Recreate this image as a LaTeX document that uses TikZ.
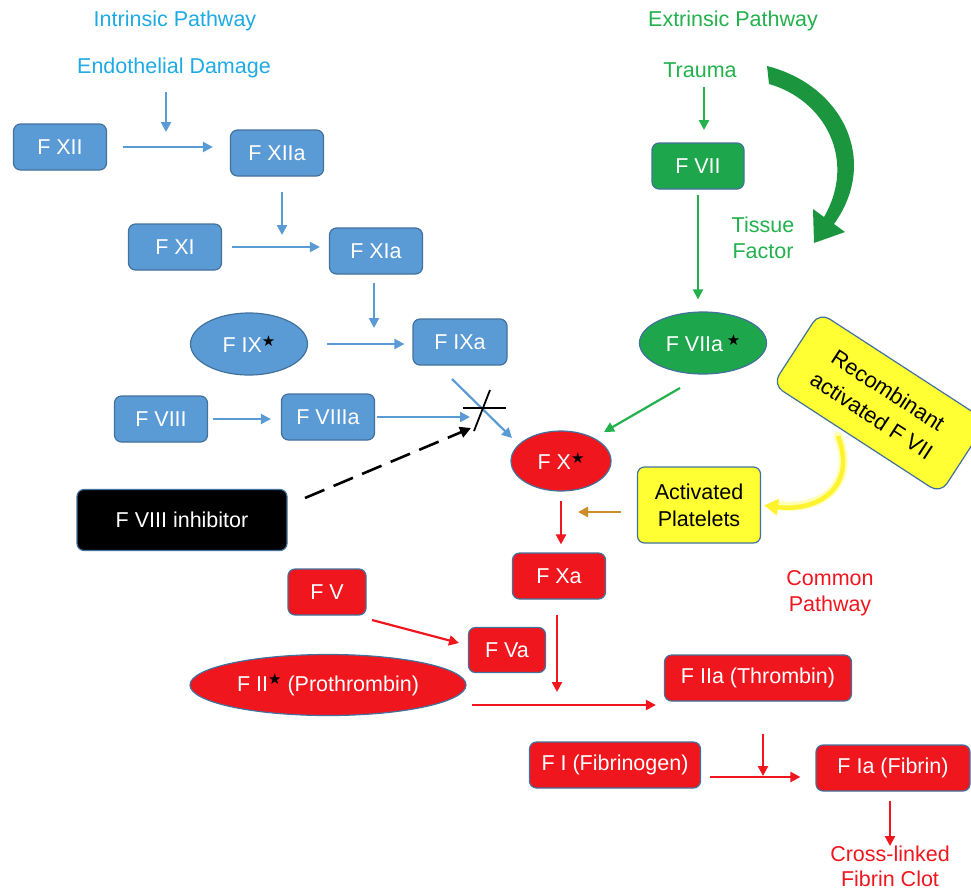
\documentclass[tikz,border=0pt]{standalone}
\usepackage{fontspec}
\setmainfont{Liberation Sans}
\newfontfamily\symfont{DejaVu Sans}
\usetikzlibrary{arrows.meta,shapes.geometric,calc}
\definecolor{cyanT}{RGB}{30,170,228}
\definecolor{greenT}{RGB}{34,177,76}
\definecolor{boxblue}{RGB}{91,155,213}
\definecolor{edgeblue}{RGB}{65,113,156}
\definecolor{boxgreen}{RGB}{30,166,76}
\definecolor{boxred}{RGB}{240,22,30}
\definecolor{redT}{RGB}{240,22,30}
\definecolor{ylw}{RGB}{255,255,51}
\definecolor{orangeA}{RGB}{205,140,40}
\definecolor{bigG}{RGB}{28,150,62}
\newcommand{\mystar}{\raisebox{0.3em}{\symfont\fontsize{15}{15}\selectfont\textcolor{black}{★}}}
\begin{document}
\begin{tikzpicture}[x=1pt,y=-1pt,
  font=\fontsize{21.5}{26}\selectfont,
  box/.style={draw=edgeblue, line width=1.2pt, rounded corners=7pt, minimum width=93pt, minimum height=46pt, inner sep=2pt, text=white},
  bbox/.style={box, fill=boxblue},
  rbox/.style={box, fill=boxred},
  ell/.style={ellipse, draw=edgeblue, line width=1.2pt, inner sep=0pt, text=white},
  arr/.style={line width=2.2pt, -{Triangle[length=10pt,width=10pt]}},
  barr/.style={arr, draw=boxblue, fill=boxblue},
  garr/.style={arr, draw=greenT, fill=greenT},
  rarr/.style={arr, draw=boxred, fill=boxred},
  oarr/.style={arr, draw=orangeA, fill=orangeA}]
\useasboundingbox (0,0) rectangle (971,892);

% ---------- intrinsic
\node[text=cyanT] (intr) at (175,21) {Intrinsic Pathway};
\node[text=cyanT] (endo) at (174,68) {Endothelial Damage};
\node[bbox] (fxii) at (60,147) {F XII};
\node[bbox] (fxiia) at (277,153) {F XIIa};
\node[bbox] (fxi) at (175,247) {F XI};
\node[bbox] (fxia) at (376,251) {F XIa};
\node[ell, fill=boxblue, minimum width=117pt, minimum height=62pt] (fix) at (249,344) {F IX\mystar};
\node[bbox, minimum width=94pt] (fixa) at (460,342) {F IXa};
\node[bbox] (fviii) at (161,419) {F VIII};
\node[bbox] (fviiia) at (328,417) {F VIIIa};
\node[box, fill=black, minimum width=210pt, minimum height=61pt] (inhib) at (182,520) {F VIII inhibitor};

\coordinate (e1) at (166,132);
\coordinate (e2) at (282,235);
\coordinate (e3) at (374,328);
\coordinate (xc) at (470,417);
\coordinate (b1) at (452,379);
\coordinate (b2) at (512,438);
\coordinate (d1) at (305,498);
\coordinate (xm) at (471,428);

\draw[barr, shorten <=10pt] (endo.south -| e1) -- (e1);
\draw[barr, shorten <=16pt, shorten >=17pt] (fxii.east) -- (fxii.east -| fxiia.west);
\draw[barr, shorten <=15pt] (fxiia.south -| e2) -- (e2);
\draw[barr, shorten <=10pt, shorten >=9pt] (fxi.east) -- (fxi.east -| fxia.west);
\draw[barr, shorten <=8pt] (fxia.south -| e3) -- (e3);
\draw[barr, shorten <=19pt, shorten >=8pt] (fix.east) -- (fix.east -| fixa.west);
\draw[barr, shorten <=5pt, shorten >=10pt] (fviii.east) -- (fviii.east -| fviiia.west);
\draw[barr, shorten <=2pt] (fviiia.east |- xc) -- (xc);
\draw[barr] (b1) -- (b2);
% X mark
\draw[black, line width=1.8pt] (463,408) -- (506,408);
\draw[black, line width=1.8pt] (474,431) -- (490,390);
% inhibitor dashed arrow
\draw[black, line width=2.6pt, dash pattern=on 21pt off 10pt, -{Triangle[length=11pt,width=11pt]}] (d1) -- (xm);

% ---------- extrinsic
\node[text=greenT] (ext) at (733,21) {Extrinsic Pathway};
\node[text=greenT] (trauma) at (700,70) {Trauma};
\node[box, fill=boxgreen, minimum width=92pt] (fvii) at (698,166) {F VII};
\node[text=greenT, align=center] (tf) at (763,238) {Tissue\\Factor};
\node[ell, fill=boxgreen, minimum width=127pt, minimum height=62pt] (fviia) at (703,343) {F VIIa\,\mystar};
\coordinate (t1) at (704,87);
\coordinate (t2) at (704,130);
\draw[garr] (t1) -- (t2);
\draw[garr, shorten <=5pt, shorten >=12pt] (fvii.south) -- (fvii.south |- fviia.north);
% big curved green arrow
\fill[bigG] (767,66) .. controls (842,85) and (880,160) .. (834,224)
  -- (845,232) -- (814,243) -- (813,209) -- (824,217)
  .. controls (857,160) and (825,100) .. (769,84) -- cycle;

\coordinate (g1) at (680,388);
\coordinate (g2) at (604,432);
\draw[garr] (g1) -- (g2);

% recombinant
\node[box, fill=ylw, text=black, rotate=-33, rounded corners=12pt, minimum width=200pt, minimum height=86pt, align=center, font=\fontsize{22}{30}\selectfont] (recomb) at (880,403) {Recombinant\\activated F VII};
\node[box, fill=ylw, text=black, minimum width=123pt, minimum height=76pt, align=center, font=\fontsize{21.5}{27}\selectfont] (plat) at (699,505) {Activated\\Platelets};
\coordinate (y1) at (838,436);
\draw[ylw!60, line width=9pt, line cap=round, opacity=0.6] (y1) .. controls (858,490) and (815,512) .. ($(plat.east)+(14,0)$);
\draw[ylw!90!orange, line width=4.5pt, -{Triangle[length=14pt,width=16pt]}, shorten >=3pt] (y1) .. controls (858,490) and (815,512) .. (plat.east);

% ---------- common
\node[ell, fill=boxred, minimum width=100pt, minimum height=60pt] (fx) at (561,461) {F X\mystar};
\coordinate (o1) at (578,512);
\draw[oarr, shorten <=16pt] (plat.west |- o1) -- (o1);
\node[rbox] (fxa) at (559,576) {F Xa};
\draw[rarr, shorten <=9pt, shorten >=8pt] (fx.south) -- (fx.south |- fxa.north);
\node[text=redT, align=center] (common) at (830,593) {Common\\Pathway};
\node[rbox, minimum width=78pt] (fv) at (327,592) {F V};
\node[rbox, minimum width=77pt, minimum height=45pt] (fva) at (507,650) {F Va};
\coordinate (r1) at (372,620);
\coordinate (r2) at (459,643);
\draw[rarr] (r1) -- (r2);
\coordinate (r3) at (557,692);
\draw[rarr, shorten <=15pt] (fxa.south -| r3) -- (r3);
\node[ell, fill=boxred, minimum width=276pt, minimum height=61pt] (fii) at (328,685) {F II\mystar\ (Prothrombin)};
\node[rbox, minimum width=187pt] (fiia) at (758,678) {F IIa (Thrombin)};
\coordinate (r4) at (472,705);
\draw[rarr, shorten >=8pt] (r4) -- (r4 -| fiia.west);
\node[rbox, minimum width=171pt] (fi) at (615,765) {F I (Fibrinogen)};
\node[rbox, minimum width=154pt] (fia) at (893,768) {F Ia (Fibrin)};
\coordinate (r5) at (710,777);
\draw[rarr, shorten >=15pt] (r5) -- (r5 -| fia.west);
\coordinate (r6) at (763,776);
\draw[rarr, shorten <=32pt] (fiia.south -| r6) -- (r6);
\coordinate (r7) at (890,846);
\draw[rarr, shorten <=9pt] (fia.south -| r7) -- (r7);
\node[text=redT, align=center, font=\fontsize{21.5}{25}\selectfont] (clot) at (890,866) {Cross-linked\\Fibrin Clot};
\end{tikzpicture}
\end{document}
